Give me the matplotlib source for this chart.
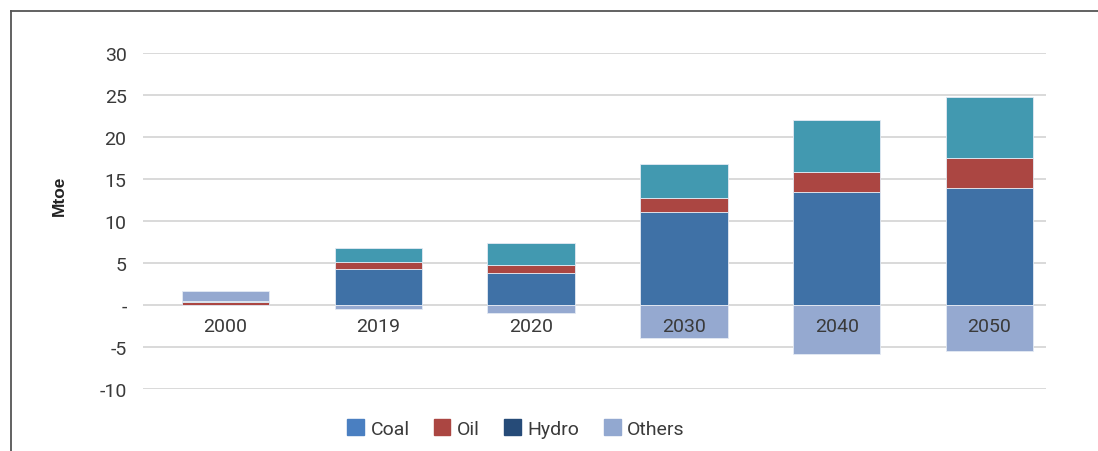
import matplotlib
matplotlib.use("Agg")
import matplotlib.pyplot as plt
from matplotlib.patches import Patch
from matplotlib.lines import Line2D
import numpy as np

# values (Mtoe)
years = ["2000", "2019", "2020", "2030", "2040", "2050"]
coal = [0.0, 4.3, 3.8, 11.1, 13.5, 14.0]
oil = [0.35, 0.8, 1.0, 1.6, 2.4, 3.5]
hydro = [0.0, 0.0, 0.0, 0.0, 0.0, 0.0]
gas = [0.12, 1.7, 2.6, 4.05, 6.2, 7.25]
others = [1.15, -0.5, -1.0, -3.95, -5.8, -5.5]

yticks = [-10, -5, 0, 5, 10, 15, 20, 25, 30]
ytick_labels = ["-10", "-5", "-", "5", "10", "15", "20", "25", "30"]

c_coal = "#3f71a6"
c_oil = "#ab4642"
c_hydro = "#264b78"
c_gas = "#4299b0"
c_others = "#95a9d0"

plt.rcParams["font.family"] = ["Roboto", "DejaVu Sans"]

fig = plt.figure(figsize=(10.98, 4.52), dpi=100)
ax = fig.add_axes([0.1305, 0.1372, 0.8219, 0.7427])

x = np.arange(len(years))
w = 0.573
edge = dict(edgecolor="#e4eaf3", linewidth=0.6)

coal = np.array(coal)
oil = np.array(oil)
hydro = np.array(hydro)
gas = np.array(gas)
others = np.array(others)

ax.bar(x, coal, w, color=c_coal, zorder=2, **edge)
ax.bar(x, oil, w, bottom=coal, color=c_oil, zorder=2, **edge)
ax.bar(x, hydro, w, bottom=coal + oil, color=c_hydro, zorder=2, linewidth=0)
ax.bar(x, gas, w, bottom=coal + oil + hydro, color=c_gas, zorder=2, **edge)
pos_base = coal + oil + hydro + gas
oth_bottom = np.where(others > 0, pos_base, 0)
ax.bar(x, others, w, bottom=oth_bottom, color=c_others, zorder=2, **edge)

# category labels sit just under the zero line, over the bars
for xi, lab in zip(x, years):
    ax.text(xi, -2.55, lab, ha="center", va="center", fontsize=14,
            color="#3a3a3a", zorder=5)

ax.set_xlim(-0.538, 5.368)
ax.set_ylim(-10, 30)
ax.set_xticks([])
ax.set_yticks(yticks)
ax.set_yticklabels(ytick_labels, fontsize=14, color="#3a3a3a")
ax.tick_params(axis="y", length=0, pad=12)
ax.grid(axis="y", color="#d9d9d9", linewidth=1.4, zorder=0)
ax.set_axisbelow(True)
for s in ax.spines.values():
    s.set_visible(False)

fig.text(0.054, 0.566, "Mtoe", rotation=90, ha="center", va="center",
         fontsize=12.5, fontweight="bold", family=["Liberation Sans", "DejaVu Sans"],
         color="#222222")

handles = [Patch(color="#4a7fc1", label="Coal"),
           Patch(color=c_oil, label="Oil"),
           Patch(color=c_hydro, label="Hydro"),
           Patch(color="#92a8d0", label="Others")]
fig.legend(handles=handles, loc="center", bbox_to_anchor=(0.47, 0.05), ncol=4,
           frameon=False, fontsize=14, handlelength=0.85, handleheight=0.85,
           handletextpad=0.35, columnspacing=1.25, labelcolor="#3a3a3a")

# outer frame (left and top edges visible in the reference)
fig.add_artist(Line2D([11 / 1098, 11 / 1098], [0, 1 - 12 / 452],
                      transform=fig.transFigure, color="#555555", linewidth=1.3))
fig.add_artist(Line2D([11 / 1098, 1], [1 - 12 / 452, 1 - 12 / 452],
                      transform=fig.transFigure, color="#555555", linewidth=1.3))

fig.savefig("out.png", dpi=100)
